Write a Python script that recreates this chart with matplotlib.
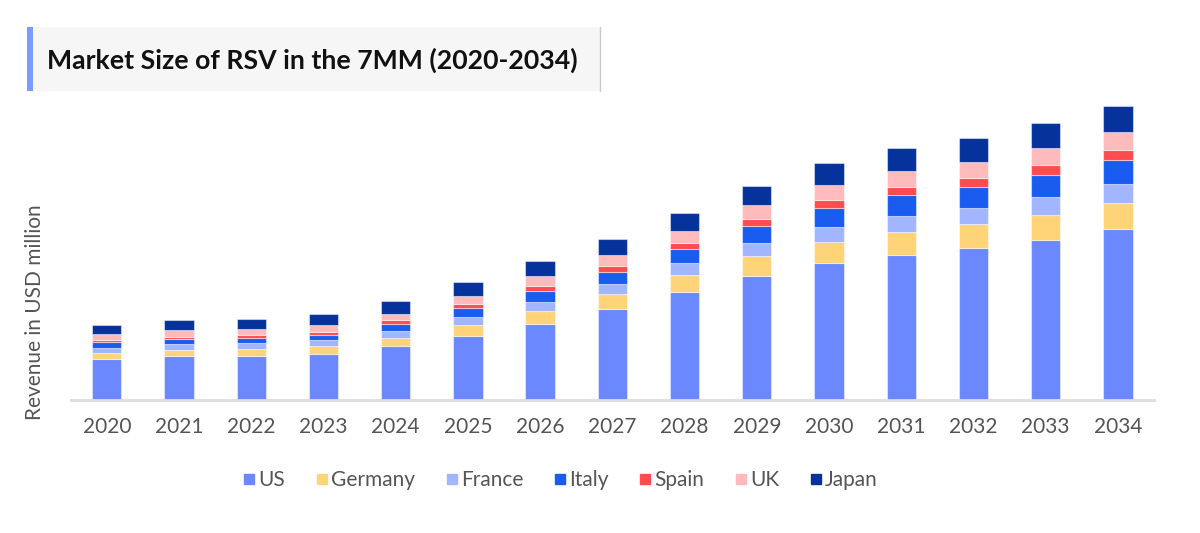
import matplotlib
matplotlib.use("Agg")
import matplotlib.pyplot as plt
from matplotlib.lines import Line2D
from matplotlib.patches import Rectangle
import numpy as np

plt.rcParams['font.family'] = ['Lato', 'DejaVu Sans']

years = ['2020', '2021', '2022', '2023', '2024', '2025', '2026', '2027',
         '2028', '2029', '2030', '2031', '2032', '2033', '2034']
us      = [41.0, 43.7, 44.3, 46.0, 53.7, 64.0, 76.0, 90.7, 108.0, 124.3, 136.7, 145.0, 151.7, 160.0, 170.7]
germany = [6.3, 6.3, 7.0, 8.0, 8.6, 10.7, 13.0, 15.0, 16.7, 19.4, 21.3, 23.0, 24.0, 25.3, 26.6]
france  = [5.0, 5.7, 5.7, 5.7, 6.7, 8.0, 9.0, 10.3, 12.0, 13.3, 15.0, 15.7, 16.3, 17.4, 18.7]
italy   = [5.7, 5.0, 5.0, 5.6, 7.0, 9.0, 11.0, 12.3, 14.6, 17.0, 19.3, 21.0, 21.3, 22.6, 24.0]
spain   = [2.3, 2.6, 3.3, 3.0, 3.7, 4.0, 5.0, 6.0, 6.0, 7.0, 8.0, 8.3, 8.4, 9.7, 9.7]
uk      = [5.7, 6.4, 5.4, 6.4, 6.6, 8.3, 9.7, 11.0, 12.0, 13.7, 15.0, 16.0, 16.6, 17.0, 18.6]
japan   = [8.7, 10.0, 10.3, 11.3, 13.0, 14.0, 15.0, 16.0, 17.4, 19.3, 21.7, 23.0, 24.0, 24.7, 26.0]

series_names = ['US', 'Germany', 'France', 'Italy', 'Spain', 'UK', 'Japan']
series_values = [us, germany, france, italy, spain, uk, japan]
colors = ['#6B88FF', '#FFD478', '#A2B5FF', '#1A5CF0', '#FF4D4F', '#FFBABC', '#06339B']

W, H = 1200, 533
fig = plt.figure(figsize=(12, 5.33), dpi=100)

# axes placement in pixels
ax_left, ax_right, ax_bottom_px, ax_top_px = 70.7, 1154, 400, 100
ax = fig.add_axes([ax_left / W, (H - ax_bottom_px) / H,
                   (ax_right - ax_left) / W, (ax_bottom_px - ax_top_px) / H])

x = np.arange(len(years))
bottom = np.zeros(len(years))
for name, vals, c in zip(series_names, series_values, colors):
    ax.bar(x, vals, width=0.406, bottom=bottom, color=c,
           edgecolor=(1, 1, 1, 0.45), linewidth=0.8, label=name, zorder=2)
    bottom += np.array(vals)

ax.set_xlim(-0.5, len(years) - 0.5)
ax.set_ylim(0, 300)
ax.set_xticks(x)
ax.set_xticklabels(years, fontsize=15, color='#555555')
ax.tick_params(axis='x', length=0, pad=12.5)
ax.set_yticks([])
for s in ['top', 'right', 'left']:
    ax.spines[s].set_visible(False)
ax.spines['bottom'].set_color('#dddddd')
ax.spines['bottom'].set_linewidth(2)

ax.set_ylabel('Revenue in USD million', fontsize=15, color='#555555')
ax.yaxis.set_label_coords((45 - ax_left) / (ax_right - ax_left),
                          (ax_bottom_px - 312) / (ax_bottom_px - ax_top_px))

# legend
handles = [Line2D([], [], marker='s', linestyle='none', markersize=7.9,
                  markerfacecolor=c, markeredgecolor=c) for c in colors]
fig.legend(handles, series_names, loc='center', bbox_to_anchor=(560.4 / W, (H - 480) / H),
           ncol=7, frameon=False, fontsize=15, labelcolor='#555555',
           handlelength=0.6, handletextpad=0.15, columnspacing=1.45, borderaxespad=0)

# title box
fig.patches.append(Rectangle((26.7 / W, (H - 90.7) / H), (600 - 26.7) / W, (90.7 - 26.7) / H,
                             transform=fig.transFigure, facecolor='#f6f6f6',
                             edgecolor='none', zorder=0))
fig.patches.append(Rectangle((26.7 / W, (H - 90.7) / H), 6.6 / W, (90.7 - 26.7) / H,
                             transform=fig.transFigure, facecolor='#7a9cff',
                             edgecolor='none', zorder=1))
fig.lines.append(Line2D([600 / W, 600 / W], [(H - 90.7) / H, (H - 26.7) / H],
                        transform=fig.transFigure, color='#cccccc', linewidth=1))
fig.text(46.7 / W, (H - 60) / H, 'Market Size of RSV in the 7MM (2020-2034)',
         fontsize=19.2, fontweight='bold', color='#111111', va='center', ha='left')

fig.savefig('out.png', dpi=100, facecolor='white')
